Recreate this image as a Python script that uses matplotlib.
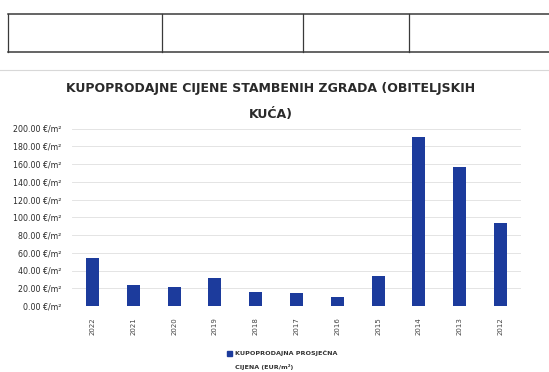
import matplotlib
matplotlib.use("Agg")
import matplotlib.pyplot as plt
from matplotlib.lines import Line2D
from matplotlib.patches import Rectangle

years = ["2022", "2021", "2020", "2019", "2018", "2017", "2016", "2015", "2014", "2013", "2012"]
prices = [54, 24, 21, 32, 16, 15, 10, 34, 190, 157, 93]
y_ticks = [0, 20, 40, 60, 80, 100, 120, 140, 160, 180, 200]
title = "KUPOPRODAJNE CIJENE STAMBENIH ZGRADA (OBITELJSKIH\nKUĆA)"
legend_lines = ["KUPOPRODAJNA PROSJEČNA", "CIJENA (EUR/m²)"]

W, H = 549, 372
fig = plt.figure(figsize=(W / 100, H / 100), dpi=100)
fig.patch.set_facecolor("white")

def fx(px):
    return px / W

def fy(py):
    return 1 - py / H

# header table row
tcol = "#3a3a3a"
fig.add_artist(Line2D([fx(8), fx(549)], [fy(14), fy(14)], color=tcol, lw=1.1))
fig.add_artist(Line2D([fx(8), fx(549)], [fy(52), fy(52)], color=tcol, lw=1.1))
for xv in [8, 162, 303, 409]:
    fig.add_artist(Line2D([fx(xv), fx(xv)], [fy(14), fy(52)], color=tcol, lw=0.9))
fig.add_artist(Line2D([0, 1], [fy(70), fy(70)], color="#d8d8d8", lw=0.8))

ax = fig.add_axes([fx(72), fy(306), fx(521) - fx(72), fy(128.5) - fy(306)])
bar_color = "#1c3b9c"
ax.bar(range(len(years)), prices, width=0.32, color=bar_color, zorder=3)
ax.set_xlim(-0.5, len(years) - 0.5)
ax.set_ylim(0, 200)
ax.set_yticks(y_ticks)
ax.set_yticklabels([f"{v:.2f} €/m²" for v in y_ticks], fontsize=5.7, color="#2a2a2a")
ax.set_xticks(range(len(years)))
ax.set_xticklabels(years, rotation=90, fontsize=5, color="#444444")
ax.tick_params(axis="y", length=0, pad=8)
ax.tick_params(axis="x", length=0, pad=8)
ax.grid(axis="y", color="#e4e4e4", lw=0.7, zorder=0)
for s in ax.spines.values():
    s.set_visible(False)

fig.text(fx(271), fy(101.5), title, ha="center", va="center", fontsize=9.0,
         fontweight="bold", color="#2a2a2a", linespacing=2.25)

# series key
fig.text(fx(235), fy(353), legend_lines[0], ha="left", va="center",
         fontsize=4.6, fontweight="bold", color="#333333")
fig.text(fx(235), fy(367), legend_lines[1], ha="left", va="center",
         fontsize=4.6, fontweight="bold", color="#333333")
fig.add_artist(Rectangle((fx(227), fy(356)), fx(5), 5 / H,
                         transform=fig.transFigure, color=bar_color))

fig.savefig("out.png", dpi=100, facecolor="white")
